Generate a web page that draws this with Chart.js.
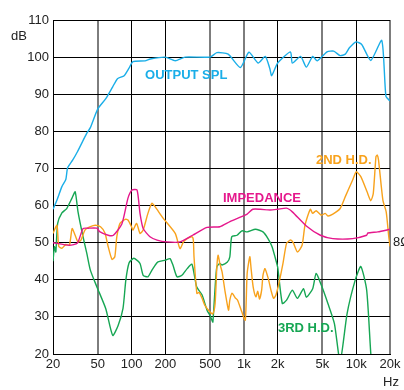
<!doctype html>
<html>
<head>
    <meta charset="utf-8">
    <title>Response</title>
    <script src="https://cdn.jsdelivr.net/npm/chart.js@4.4.0/dist/chart.umd.min.js"></script>
    <style>
        html, body { margin: 0; padding: 0; background: #fff; }
        canvas { display: block; }
    </style>
</head>
<body>
<canvas id="myChart" width="404" height="390" style="width:404px;height:390px"></canvas>

<script>
    // tick values and labels
    var xTicks = [20, 50, 100, 200, 500, 1000, 2000, 5000, 10000, 20000];
    var xTickLabels = ['20', '50', '100', '200', '500', '1k', '2k', '5k', '10k', '20k'];
    var grayTicks = [50, 500, 1000, 5000, 20000];

    // OUTPUT SPL
    var splHz = [20, 21.7, 24, 26, 27, 30, 33, 40, 43, 50, 59, 68, 75, 86, 95, 103, 132, 147, 200, 245, 300, 500, 575, 725, 930,
        1110, 1340, 1550, 1700, 1770, 2000, 2600, 2700, 3200, 3600, 4100, 4500, 5500, 6300, 7200, 8000, 8700, 10000, 11200,
        13500, 16900, 18400, 20000];
    var splDb = [59, 61.5, 65.1, 67, 70.2, 72.3, 74.5, 79.5, 81, 86, 88.8, 92, 94.2, 95, 97, 98.8, 99, 99.5, 100, 99, 100, 100,
        101.2, 100.8, 97.2, 101.3, 98.4, 100.2, 97, 95, 98.4, 101.4, 98.4, 100.2, 97.3, 100.2, 99, 101.4, 101.6, 100.4, 100.8,
        102.5, 104.1, 103.4, 99.1, 104.5, 89.4, 88.2];

    // IMPEDANCE
    var impHz = [20, 28, 33, 37, 41, 49, 52, 62, 69, 82, 93, 101, 112, 119, 127, 146, 169, 207, 270, 350, 470, 611, 752, 1070,
        1200, 1400, 1710, 2000, 2400, 2700, 3600, 4800, 6200, 9300, 12400, 12700, 15600, 20000];
    var impDb = [50, 49.3, 49.9, 53.8, 53.9, 53.9, 53, 52, 52, 55, 62, 64.2, 64.2, 57.9, 53.8, 51.6, 50.7, 50.2, 50.2, 52, 54.1,
        54.3, 55.7, 57.7, 59, 59, 58.8, 59, 59.3, 58.3, 54.5, 52, 51.1, 51.1, 52, 52.6, 52.9, 53.6];

    // 2ND H.D.
    var hd2Hz = [20, 21.7, 22.5, 24, 26, 28, 29.6, 31.5, 33.4, 35.5, 38.5, 43, 47.5, 53, 58, 62, 67, 71, 74, 79, 88, 93, 100,
        103, 111, 119, 127, 140, 152, 162, 191, 245, 270, 290, 313, 345, 355, 360, 382, 400, 425, 450, 500, 530, 555, 575, 590,
        611, 640, 680, 730, 750, 785, 840, 880, 960, 1030, 1070, 1130, 1160, 1210, 1280, 1330, 1380, 1440, 1480, 1540, 1650,
        1750, 1840, 1930, 2050, 2230, 2400, 2600, 2750, 3000, 3300, 3500, 3900, 4100, 4400, 4900, 5300, 5600, 6200, 7200, 8000,
        9300, 10000, 11000, 12500, 13500, 14200, 15000, 15400, 15800, 17300, 18500, 19500, 20000];
    var hd2Db = [52.5, 54.7, 49, 48.5, 49.5, 49.3, 53.8, 52, 50.2, 50.7, 53.4, 54.3, 54.7, 54.3, 52.6, 48.9, 45.5, 46.2, 51.6,
        55.2, 56.3, 56.1, 54.3, 53.4, 55.2, 52.5, 53.4, 57.9, 60.6, 59.7, 56.6, 52.5, 48.4, 50.2, 51.1, 51.6, 50.7, 46.2, 36.3,
        36.6, 35, 33.1, 31.3, 30.8, 33.6, 43.5, 46.6, 44.4, 42.1, 36.9, 31.8, 34.5, 36.4, 35.1, 34.5, 31.3, 29.1, 41.7, 46.2,
        43, 38.1, 35.4, 36.9, 34.8, 37.2, 41.2, 43, 40.3, 37, 35, 35.9, 39, 44.4, 49.8, 50.7, 50, 47.5, 49.3, 54.7, 59, 57.9,
        58.6, 57.4, 57.9, 57.2, 57.7, 59.2, 62.4, 66.9, 69.1, 67.8, 63.7, 61.3, 63.3, 73.2, 73.6, 72.3, 61.4, 58.3, 51.6, 49];

    // 3RD H.D.
    var hd3Hz = [20, 20.6, 21.2, 22, 24, 26.5, 29.5, 31.5, 33.4, 37, 40, 43, 49, 59, 68, 76, 84, 89, 95, 103, 107, 119, 127,
        140, 152, 162, 172, 200, 220, 234, 254, 281, 313, 345, 380, 425, 470, 500, 520, 530, 555, 575, 611, 640, 710, 750, 780,
        870, 960, 1070, 1270, 1480, 1640, 1780, 1900, 2000, 2200, 2400, 2700, 3000, 3400, 3600, 4100, 4400, 4900, 5600, 6400,
        7200, 8300, 9800, 11000, 12400, 13500, 14500];
    var hd3Db = [45, 48.9, 47.5, 55.2, 58, 59.2, 62, 63.7, 58.3, 51.6, 47.1, 42.6, 38.2, 32.2, 25, 27.7, 32.3, 39.9, 44.5,
        45.7, 45.7, 44.4, 41.2, 40.8, 42.6, 43.9, 44.8, 45.3, 45.7, 43.9, 40.8, 41.2, 43, 44.2, 38.1, 35.9, 31.8, 30.4, 29.1,
        28.6, 38, 43.5, 44.4, 44, 44.7, 46.2, 51.6, 52, 53.2, 52.9, 53.6, 52.9, 51.1, 49, 46, 43.4, 33.6, 34.5, 37.2, 35, 37.6,
        35.3, 37.6, 41.7, 38.5, 33.6, 28.2, 18, 30.9, 39.9, 43.6, 37.2, 20, 10];

    var FONT = '"Liberation Sans", Arial, sans-serif';

    function zip(hz, db) {
        return hz.map(function (f, i) { return {x: f, y: db[i]}; });
    }

    // series labels written inside the plot, placed in data units
    var seriesLabels = [
        {text: 'OUTPUT SPL', hz: 132, db: 95, color: '#1aaee8', bold: true},
        {text: 'IMPEDANCE', hz: 652, db: 61.9, color: '#e5178c', bold: true},
        {text: '2ND H.D.', hz: 4380, db: 72.2, color: '#f8a21c', bold: true},
        {text: '3RD H.D.', hz: 2010, db: 26.8, color: '#16a653', bold: true},
        {text: '8\u03a9', hz: 21300, db: 50, color: '#222', bold: false}
    ];

    var textPlugin = {
        id: 'textPlugin',
        afterDraw: function (chart) {
            var c = chart.ctx;
            var xs = chart.scales.x, ys = chart.scales.y;
            c.save();
            c.textBaseline = 'middle';
            seriesLabels.forEach(function (l) {
                c.font = (l.bold ? 'bold ' : '') + '13px ' + FONT;
                c.fillStyle = l.color;
                c.textAlign = 'left';
                c.fillText(l.text, xs.getPixelForValue(l.hz), ys.getPixelForValue(l.db));
            });
            c.font = '13px ' + FONT;
            c.fillStyle = '#222';
            c.textAlign = 'center';
            c.fillText('dB', chart.chartArea.left - 34, chart.chartArea.top + 16);
            c.fillText('Hz', chart.chartArea.right + 1, chart.chartArea.bottom + 28);
            c.restore();
        }
    };

    function lineSet(label, data, color) {
        return {
            label: label,
            data: data,
            borderColor: color,
            backgroundColor: color,
            borderWidth: 1.4,
            pointRadius: 0,
            tension: 0.2,
            fill: false
        };
    }

    var chart = new Chart(document.getElementById('myChart'), {
        type: 'line',
        data: {
            datasets: [
                lineSet('OUTPUT SPL', zip(splHz, splDb), '#1aaee8'),
                lineSet('IMPEDANCE', zip(impHz, impDb), '#e5178c'),
                lineSet('2ND H.D.', zip(hd2Hz, hd2Db), '#f8a21c'),
                lineSet('3RD H.D.', zip(hd3Hz, hd3Db), '#16a653')
            ]
        },
        options: {
            responsive: false,
            animation: false,
            devicePixelRatio: 1,
            layout: {padding: {left: 0, top: 20, right: 14, bottom: 0}},
            plugins: {
                legend: {display: false},
                tooltip: {enabled: false}
            },
            scales: {
                x: {
                    type: 'logarithmic',
                    min: 20,
                    max: 20000,
                    afterBuildTicks: function (s) {
                        s.ticks = xTicks.map(function (v) { return {value: v}; });
                    },
                    afterFit: function (s) { s.height = 36; },
                    ticks: {
                        autoSkip: false,
                        maxRotation: 0,
                        padding: 3,
                        color: '#222',
                        font: {family: FONT, size: 13},
                        callback: function (v, i) { return xTickLabels[i]; }
                    },
                    grid: {
                        drawTicks: false,
                        color: function (ctx) {
                            return ctx.tick && grayTicks.indexOf(ctx.tick.value) >= 0 ? '#7d7d7d' : '#000';
                        },
                        lineWidth: function (ctx) {
                            return ctx.tick && grayTicks.indexOf(ctx.tick.value) >= 0 ? 2 : 1;
                        }
                    },
                    border: {color: '#000', width: 1}
                },
                y: {
                    min: 20,
                    max: 110,
                    afterFit: function (s) { s.width = 53; },
                    ticks: {
                        stepSize: 10,
                        padding: 4,
                        color: '#222',
                        font: {family: FONT, size: 13}
                    },
                    grid: {drawTicks: false, color: '#000', lineWidth: 1},
                    border: {color: '#000', width: 1}
                }
            }
        },
        plugins: [textPlugin]
    });
</script>
</body>
</html>
